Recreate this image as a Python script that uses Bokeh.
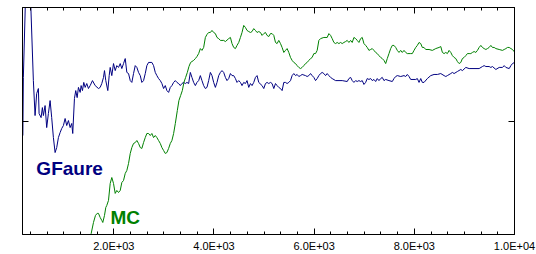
from bokeh.plotting import figure
from bokeh.models import (Range1d, LinearAxis, SingleIntervalTicker, FixedTicker,
                          CustomJSTickFormatter, ColumnDataSource)
from bokeh.core.properties import value
from bokeh.embed import file_html
from bokeh.resources import INLINE

# ---------------- data ----------------
gf_x = [184,194,244,314,344,394,428,460,494,508,548,574,594,628,660,694,728,760,794,828,860,894,928,960,994,1028,1060,1094,1128,1160,1180,1214,1240,1268,1294,1328,1348,1374,1400,1428,1460,1494,1528,1574,1628,1694,1728,1760,1794,1814,1840,1880,1908,1928,1960,1994,2028,2060,2094,2128,2160,2194,2228,2260,2294,2328,2360,2394,2428,2460,2494,2528,2560,2594,2628,2660,2694,2760,2794,2828,2860,2894,2928,2960,2994,3028,3060,3094,3128,3160,3194,3228,3260,3294,3328,3360,3394,3428,3460,3494,3528,3560,3594,3628,3660,3694,3728,3760,3794,3828,3860,3894,3928,3960,3994,4028,4060,4094,4128,4160,4194,4228,4260,4294,4328,4360,4394,4428,4460,4494,4528,4560,4594,4628,4660,4694,4728,4760,4794,4828,4860,4894,4960,4994,5028,5060,5094,5128,5160,5194,5228,5260,5294,5328,5360,5394,5428,5460,5494,5528,5560,5594,5628,5660,5694,5728,5760,5828,5860,5894,5928,5960,5994,6028,6060,6094,6128,6160,6194,6228,6260,6294,6328,6360,6428,6560,6660,6694,6728,6760,6794,6828,6860,6894,6928,6960,6994,7028,7060,7094,7128,7160,7194,7228,7260,7294,7328,7360,7394,7428,7494,7560,7594,7628,7660,7728,7794,7828,7860,7894,7928,8028,8060,8094,8128,8160,8194,8260,8328,8394,8460,8528,8594,8628,8660,8728,8760,8794,8860,8928,8960,9028,9094,9294,9360,9394,9428,9494,9528,9560,9628,9694,9760,9794,9828,9894,9928,9960,10000]
gf_y = [43.6,69.2,109.7,107.5,100.0,67.8,52.4,62.1,64.3,53.3,51.5,55.9,52.4,56.8,47.1,53.3,59.0,51.5,42.7,36.1,38.3,42.7,44.9,46.7,48.0,51.1,48.0,50.2,47.1,48.9,44.5,59.9,63.4,60.3,64.8,62.6,65.6,63.4,67.0,64.8,66.5,64.3,65.6,67.8,65.6,64.3,64.8,66.5,69.2,72.2,67.8,63.4,70.0,73.6,70.0,75.3,72.2,74.4,73.6,75.3,73.1,75.3,77.5,71.4,70.9,67.8,67.0,70.9,74.4,73.6,71.4,70.0,67.0,67.8,70.9,74.4,75.8,75.8,74.4,71.4,70.0,68.7,67.8,66.5,64.3,65.6,63.4,62.6,64.8,65.6,67.0,67.8,67.0,66.5,65.6,66.5,67.0,66.5,67.0,66.5,71.4,69.2,67.0,65.6,67.0,67.8,70.0,67.8,65.6,64.3,64.8,67.8,71.4,70.0,67.0,64.8,67.0,70.0,71.4,72.2,71.4,69.2,67.8,68.7,70.9,70.0,70.0,68.7,67.0,67.8,67.0,65.6,67.0,66.5,67.8,64.8,66.5,65.6,67.0,69.2,70.0,67.0,65.6,64.3,66.5,67.0,66.5,67.0,66.5,64.3,66.5,65.6,64.8,64.3,63.4,67.0,67.0,66.5,67.0,67.8,70.0,70.9,70.0,70.5,69.6,70.0,70.5,70.0,69.6,70.0,70.9,70.0,69.2,67.8,68.7,70.0,70.9,71.4,70.9,70.0,70.9,70.0,69.2,68.7,67.8,67.8,67.4,68.7,69.2,67.8,67.0,67.8,67.4,67.8,67.4,67.8,66.1,67.0,68.7,68.3,68.7,67.8,68.3,67.4,68.7,67.8,68.7,69.2,67.8,68.3,67.8,67.4,68.7,69.6,70.0,69.6,70.0,69.6,70.5,69.6,68.3,68.3,68.7,67.0,68.7,67.0,67.0,68.7,70.0,70.5,70.5,70.9,70.0,69.6,70.0,70.9,71.4,70.9,71.8,72.7,72.2,73.6,73.1,73.1,74.0,74.4,74.0,74.0,73.6,74.0,72.7,73.6,73.6,74.4,73.6,73.1,74.4,75.3,75.8]

mc_x = [1454,1548,1594,1634,1668,1694,1728,1760,1780,1814,1840,1860,1894,1928,1960,1994,2028,2060,2094,2128,2160,2194,2228,2260,2294,2328,2360,2394,2428,2460,2494,2528,2560,2594,2628,2660,2694,2728,2760,2794,2828,2860,2894,2928,2960,2994,3028,3060,3094,3128,3160,3194,3228,3268,3300,3334,3368,3400,3434,3468,3500,3534,3560,3594,3628,3660,3694,3728,3760,3794,3828,3860,3894,3928,3960,3994,4028,4060,4094,4128,4160,4194,4228,4294,4328,4360,4394,4428,4460,4494,4528,4560,4594,4628,4660,4694,4728,4760,4794,4828,4860,4894,4928,4960,4994,5028,5060,5094,5128,5160,5194,5228,5260,5294,5328,5360,5394,5428,5460,5494,5528,5560,5594,5628,5660,5694,5728,5760,5794,5828,5860,5894,5928,5960,5994,6028,6060,6094,6128,6194,6260,6294,6328,6360,6394,6428,6460,6494,6528,6560,6594,6628,6660,6694,6728,6760,6794,6828,6860,6894,6928,6960,6994,7028,7060,7094,7128,7160,7194,7228,7260,7294,7328,7360,7394,7428,7460,7494,7528,7560,7594,7628,7660,7694,7728,7760,7794,7828,7860,7928,7960,7994,8028,8060,8094,8128,8160,8194,8228,8294,8360,8428,8494,8528,8560,8594,8628,8660,8694,8728,8760,8794,8828,8860,8894,8928,8960,8994,9028,9060,9094,9128,9160,9194,9228,9260,9294,9328,9360,9394,9428,9460,9494,9528,9560,9594,9628,9694,9760,9794,9828,9860,9894,9928,9960,10000]
mc_y = [-7.0,0.4,5.3,8.4,9.3,9.3,7.5,6.2,5.3,8.4,11.9,12.8,15.0,22.5,25.1,22.5,18.1,19.4,18.5,19.4,22.9,23.8,26.9,28.2,31.3,35.7,38.3,40.1,40.5,41.4,40.1,38.3,37.9,40.5,42.7,44.5,44.5,43.6,44.5,42.7,43.6,42.7,41.4,40.1,38.3,37.0,35.7,36.1,37.9,40.1,41.4,44.5,48.9,54.6,59.0,61.2,63.4,67.0,69.2,71.4,74.0,75.8,76.2,76.7,77.5,78.4,79.7,81.9,81.1,82.4,86.8,88.1,89.0,89.0,89.9,89.0,88.5,86.8,86.3,85.5,85.5,85.5,85.0,86.3,86.8,84.1,82.4,81.9,83.3,84.6,86.8,89.0,92.1,91.2,89.9,89.4,89.0,89.4,90.7,89.9,89.0,89.4,89.0,87.7,88.5,89.0,87.7,87.2,88.5,88.5,87.7,84.6,84.1,85.5,84.1,82.4,80.2,81.1,81.9,80.2,78.0,76.7,75.8,75.3,74.4,73.6,73.1,73.6,74.4,75.3,75.8,76.7,77.5,78.0,79.7,79.7,81.1,85.5,86.3,86.8,86.8,88.5,87.7,86.3,84.6,84.1,84.6,84.1,84.6,84.1,84.6,85.0,85.5,84.6,85.5,84.6,86.8,86.3,85.5,84.6,86.3,86.8,84.1,83.3,82.4,81.1,81.5,81.9,81.1,80.2,79.7,78.8,78.0,77.5,76.7,75.3,77.5,79.7,81.9,83.3,83.3,82.4,81.1,80.2,81.1,80.2,81.1,80.2,79.7,79.7,79.7,81.1,82.4,83.3,84.6,84.1,82.4,82.4,81.5,81.5,81.1,81.9,82.4,82.8,80.2,79.7,80.2,79.7,81.1,80.2,78.8,78.0,77.5,76.2,75.3,75.8,77.5,78.0,78.8,79.7,79.7,79.7,80.2,80.6,80.2,81.1,82.4,83.3,82.4,81.9,81.5,81.9,82.4,83.3,82.4,82.4,81.9,81.5,81.1,81.5,81.9,82.4,82.4,81.9,81.5,80.4]

label_text = ["GFaure", "MC"]
label_x = [454, 1934]
label_y = [29.1, 7.5]
label_color = ["#000080", "#008000"]

x_ticks_interval = 2000
y_mid_tick = [50]

# ---------------- figure ----------------
p = figure(width=536, height=254, output_backend="svg", toolbar_location=None,
           x_range=Range1d(177, 10000), y_range=Range1d(0, 100),
           min_border_left=22, min_border_right=22, min_border_top=7, min_border_bottom=20,
           x_axis_location=None, y_axis_location=None)
p.grid.visible = False
p.background_fill_color = "white"
p.border_fill_color = "white"
p.outline_line_color = "black"
p.outline_line_width = 1

fmt = CustomJSTickFormatter(code="""
var s = tick.toExponential(1).toUpperCase();
return s.replace(/E([+-])(\\d)$/, 'E$10$2');
""")
blank = CustomJSTickFormatter(code="return '';")

def x_axis(labels):
    ax = LinearAxis(ticker=SingleIntervalTicker(interval=x_ticks_interval, num_minor_ticks=6))
    ax.major_tick_in = 6
    ax.major_tick_out = 0
    ax.minor_tick_in = 3
    ax.minor_tick_out = 0
    ax.axis_line_color = "black"
    ax.major_tick_line_color = "black"
    ax.minor_tick_line_color = "black"
    if labels:
        ax.formatter = fmt
        ax.major_label_text_font = "Liberation Sans"
        ax.major_label_text_font_size = "11px"
        ax.major_label_text_color = "black"
        ax.major_label_standoff = 5
    else:
        ax.formatter = blank
        ax.major_label_standoff = 0
    return ax

def y_axis():
    ax = LinearAxis(ticker=FixedTicker(ticks=y_mid_tick, minor_ticks=[]))
    ax.major_tick_in = 6
    ax.major_tick_out = 0
    ax.minor_tick_line_color = None
    ax.axis_line_color = "black"
    ax.major_tick_line_color = "black"
    ax.formatter = blank
    ax.major_label_standoff = 0
    return ax

p.add_layout(x_axis(True), "below")
p.add_layout(x_axis(False), "above")
p.add_layout(y_axis(), "left")
p.add_layout(y_axis(), "right")

p.line(gf_x, gf_y, line_color="#000080", line_width=1)
p.line(mc_x, mc_y, line_color="#008000", line_width=1)

src = ColumnDataSource(dict(x=label_x, y=label_y, t=label_text, c=label_color))
p.text(x="x", y="y", text="t", text_color="c", source=src,
       text_font=value("Liberation Sans"), text_font_style="bold",
       text_font_size="19px", text_align="left", text_baseline="alphabetic")

open("out.html", "w").write(file_html(p, INLINE))
